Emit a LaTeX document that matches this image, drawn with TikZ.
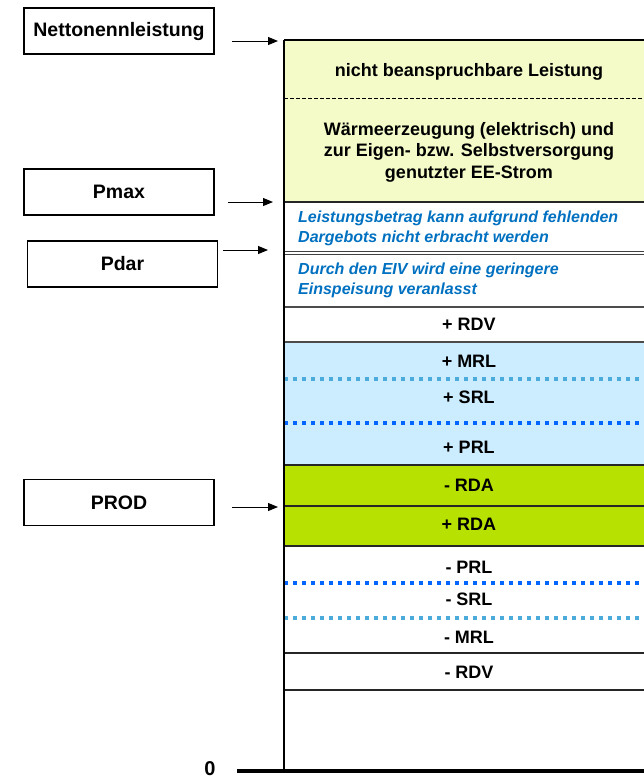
\documentclass[tikz,border=0pt]{standalone}
\usepackage{fontspec}
\setmainfont{Liberation Sans}
\usetikzlibrary{arrows.meta}
\definecolor{yel}{RGB}{244,251,200}
\definecolor{lblue}{RGB}{204,236,255}
\definecolor{grn}{RGB}{183,225,0}
\definecolor{eivblue}{RGB}{0,112,192}
\definecolor{dotlight}{RGB}{75,172,220}
\definecolor{dotdark}{RGB}{0,102,255}
\begin{document}
\begin{tikzpicture}[x=1pt,y=-1pt,
  lbl/.style={font=\fontsize{18}{21.5}\selectfont\bfseries, align=center, inner sep=0pt},
  side/.style={draw, line width=1.5pt, minimum width=190pt, minimum height=46pt,
    font=\fontsize{19.5}{22}\selectfont\bfseries, inner sep=0pt},
  note/.style={font=\fontsize{16}{20}\selectfont\bfseries\itshape, text=eivblue,
    align=left, anchor=west, inner sep=0pt},
  arr/.style={-{Triangle[length=10pt,width=8pt]}, line width=1pt},
  sep/.style={line width=1.5pt, draw=black!85},
  thinsep/.style={line width=0.9pt, draw=black!75},
  dotA/.style={line width=3.5pt, dash pattern=on 3.5pt off 5.5pt, draw=dotlight},
  dotB/.style={line width=3.5pt, dash pattern=on 3.5pt off 5.5pt, draw=dotdark},
]
\useasboundingbox (0,0) rectangle (644,780);

% fills
\fill[yel] (284,40) rectangle (644,202);
\fill[lblue] (284,342) rectangle (644,465);
\fill[grn] (284,465) rectangle (644,546);

% separators
\draw[line width=1.5pt] (284,40) -- (644,40);
\draw[line width=1pt, dash pattern=on 4pt off 2pt] (284,98) -- (644,98);
\draw[sep] (284,202) -- (644,202);
\draw[thinsep] (284,251) -- (644,251);
\draw[thinsep] (284,254.5) -- (644,254.5);
\draw[sep, draw=black!70] (284,307) -- (644,307);
\draw[sep, draw=black!70] (284,342) -- (644,342);
\draw[dotA] (284,379) -- (644,379);
\draw[dotB] (284,423) -- (644,423);
\draw[sep] (284,465) -- (644,465);
\draw[sep] (284,506) -- (644,506);
\draw[sep] (284,546) -- (644,546);
\draw[dotB] (284,583) -- (644,583);
\draw[dotA] (284,618) -- (644,618);
\draw[sep] (284,653) -- (644,653);
\draw[sep] (284,690) -- (644,690);

% axis
\draw[line width=2pt] (284,40) -- (284,771);
\draw[line width=3.5pt] (237,771) -- (644,771);
\node[font=\fontsize{20}{24}\selectfont\bfseries, inner sep=0pt] (zero) at (210,769) {0};

% row texts
\node[lbl] (nb) at (469,72) {nicht beanspruchbare Leistung};
\node[lbl] (wa) at (469,152) {Wärmeerzeugung (elektrisch) und\\zur Eigen- bzw. Selbstversorgung\\genutzter EE-Strom};
\node[note] (lb) at (298,228) {Leistungsbetrag kann aufgrund fehlenden\\Dargebots nicht erbracht werden};
\node[note] (eiv) at (298,280) {Durch den EIV wird eine geringere\\Einspeisung veranlasst};
\node[lbl] (prdv) at (469,324) {+ RDV};
\node[lbl] (pmrl) at (469,361) {+ MRL};
\node[lbl] (psrl) at (469,397) {+ SRL};
\node[lbl] (pprl) at (469,447) {+ PRL};
\node[lbl] (mrda) at (469,485) {- RDA};
\node[lbl] (prda) at (469,524) {+ RDA};
\node[lbl] (mprl) at (469,567) {- PRL};
\node[lbl] (msrl) at (469,599) {- SRL};
\node[lbl] (mmrl) at (469,637) {- MRL};
\node[lbl] (mrdv) at (469,672) {- RDV};

% side labels
\node[side] (net) at (119,31) {Nettonennleistung};
\node[side] (pmax) at (119,192) {Pmax};
\node[side] (pdar) at (122.5,264) {Pdar};
\node[side] (prod) at (119,502.5) {PROD};

% arrows
\coordinate (n1) at (232,41);  \coordinate (n2) at (278,41);
\coordinate (m1) at (228,202); \coordinate (m2) at (273,202);
\coordinate (d1) at (223,250); \coordinate (d2) at (268,250);
\coordinate (p1) at (232,507); \coordinate (p2) at (278,507);
\draw[arr] (n1) -- (n2);
\draw[arr] (m1) -- (m2);
\draw[arr] (d1) -- (d2);
\draw[arr] (p1) -- (p2);
\end{tikzpicture}
\end{document}
